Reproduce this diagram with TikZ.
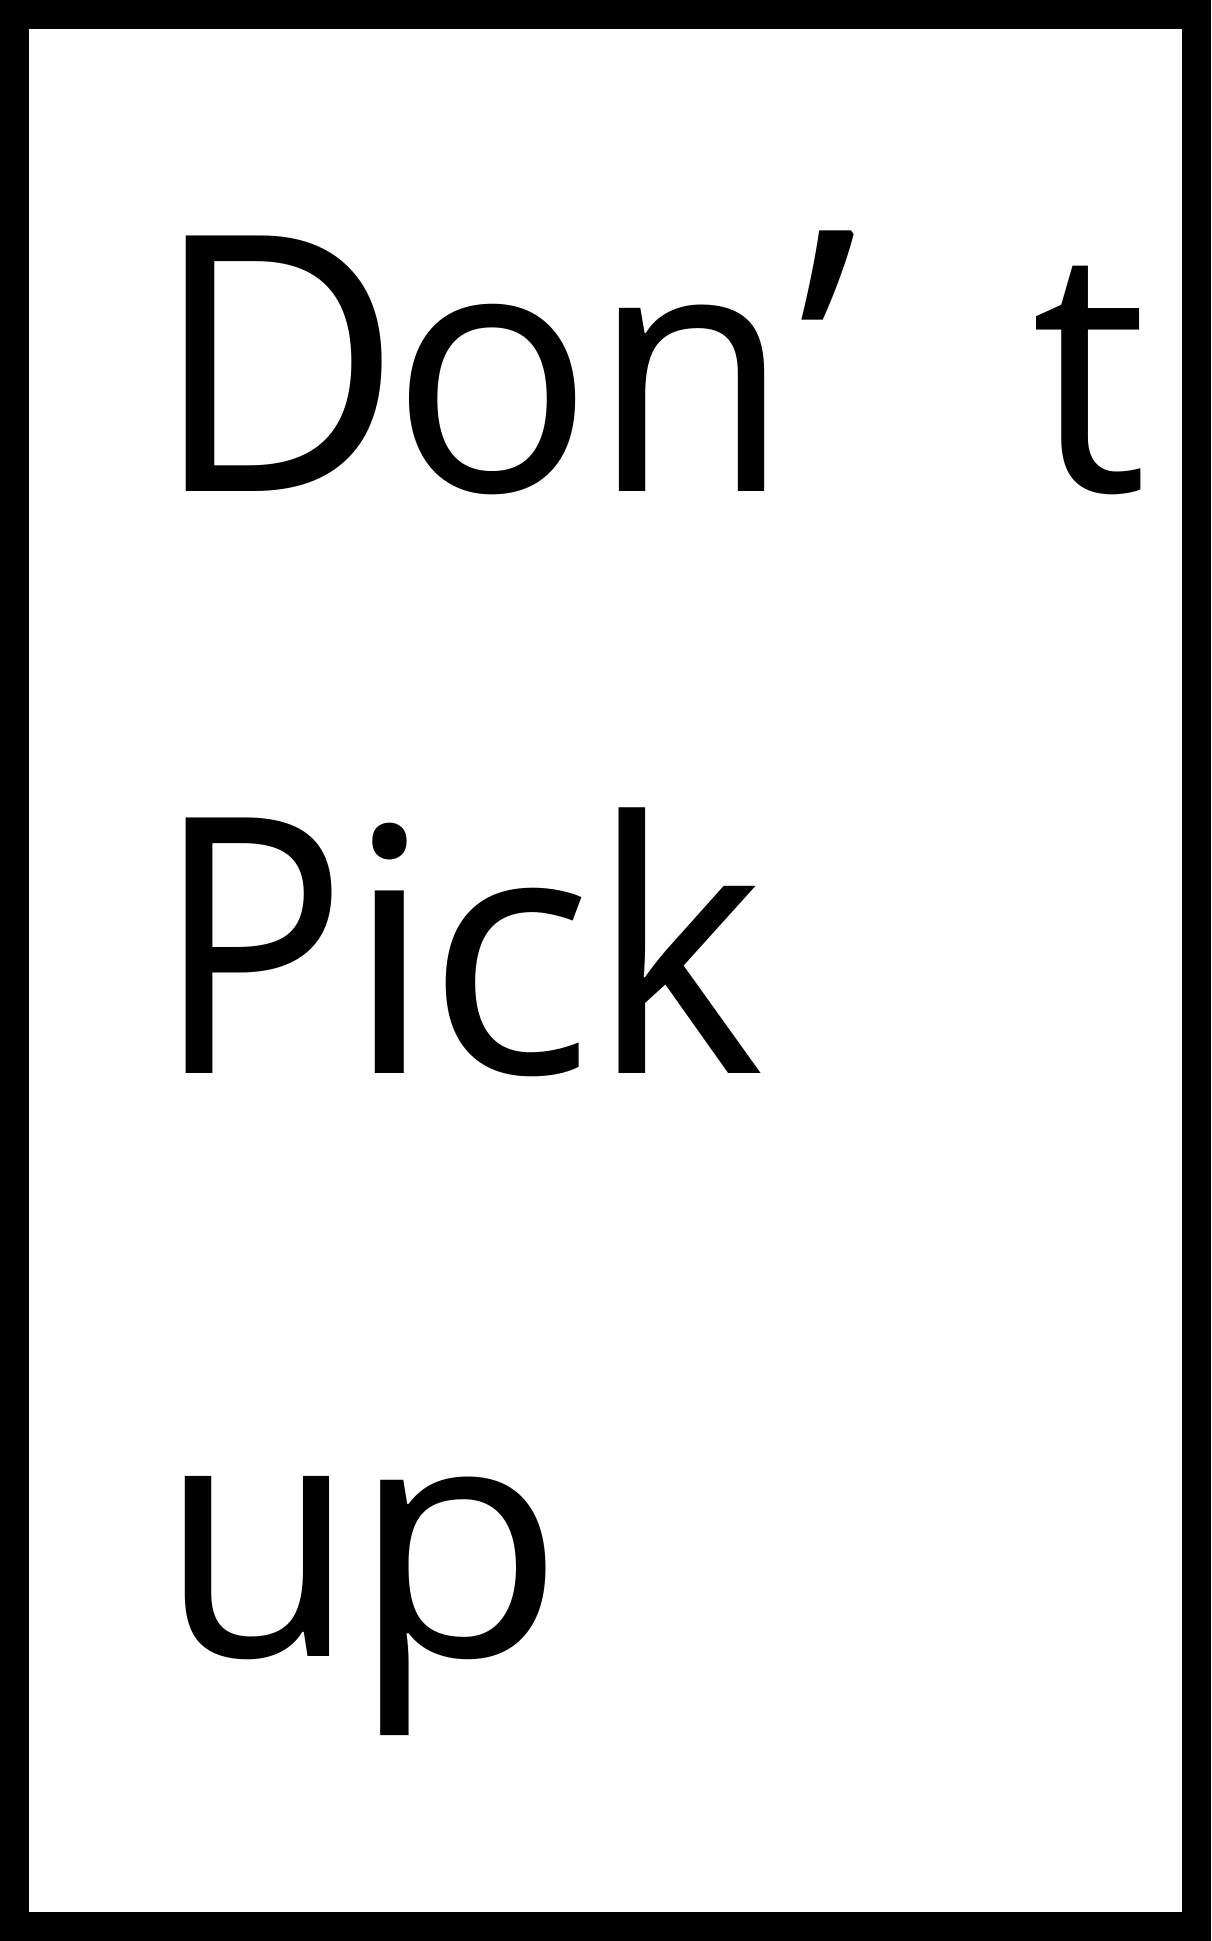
\documentclass[tikz,border=0pt]{standalone}
\usepackage{fontspec}
\setmainfont{Open Sans}
\begin{document}
\begin{tikzpicture}[x=0.5pt,y=-0.5pt,
  glyph/.style={inner sep=0pt,outer sep=0pt,anchor=base,font=\fontsize{179}{200}\selectfont}]
\useasboundingbox (0,0) rectangle (1211,1941);
\fill[white] (0,0) rectangle (1211,1941);
\draw[line width=14.5pt] (14.5,14.5) rectangle (1196.5,1926.5);
% line 1
\node[glyph] (D) at (277.7,491) {\scalebox{0.96}[1]{D}};
\node[glyph] (o1) at (493,491) {\scalebox{0.944}[0.96]{o}};
\node[glyph] (n) at (691,491) {\scalebox{0.907}[0.956]{n}};
\node[glyph] (ap) at (828,491) {\scalebox{1}[1.02]{’}};
\node[glyph] (t) at (1090,491) {\scalebox{0.92}[0.955]{t}};
% line 2
\node[glyph] (P) at (251.7,1073) {\scalebox{0.9}[1]{P}};
\node[glyph] (i) at (390,1073) {\scalebox{1}[0.953]{i}};
\node[glyph] (c) at (509.6,1073) {\scalebox{0.98}[0.95]{c}};
\node[glyph] (k) at (678,1073) {\scalebox{0.927}[0.977]{k}};
% line 3
\node[glyph] (u) at (258,1656) {\scalebox{0.9}[0.94]{u}};
\node[glyph] (p) at (457.7,1656) {\scalebox{0.98}[0.92]{p}};
\end{tikzpicture}
\end{document}
